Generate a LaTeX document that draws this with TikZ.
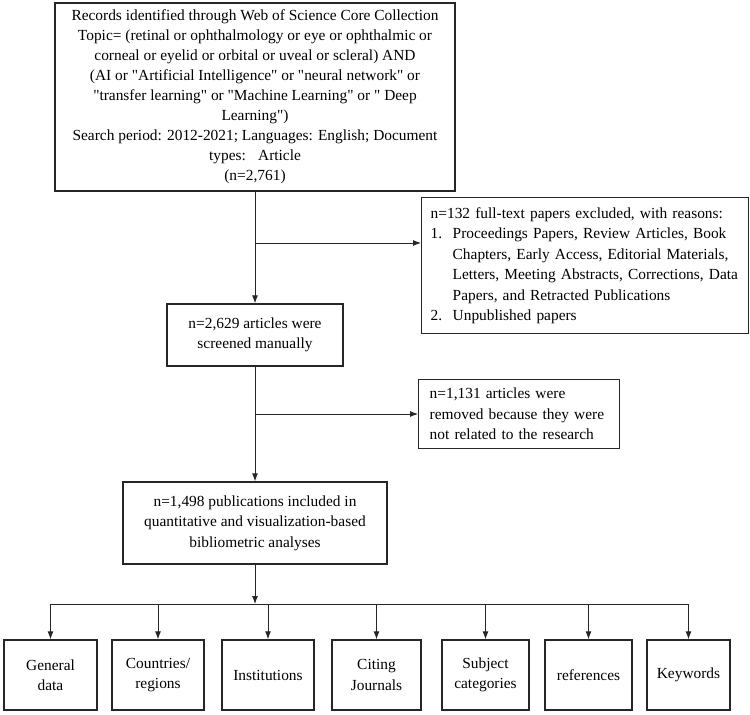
\documentclass[tikz,border=0pt]{standalone}
\usepackage{fontspec}
\setmainfont{Liberation Serif}[Ligatures=TeXOff]
\usetikzlibrary{arrows.meta}
\definecolor{flowgray}{RGB}{38,38,38}
\tikzset{
    flowbox/.style={
        draw=flowgray,
        line width=1.4pt,
        align=center,
        inner sep=0pt,
        font=\fontsize{15.4}{20.5}\selectfont
    },
    notebox/.style={
        draw=flowgray,
        line width=1.4pt,
        align=left,
        inner ysep=0pt,
        anchor=north west,
        font=\fontsize{15.4}{20.5}\selectfont
    },
    catbox/.style={
        flowbox,
        minimum height=70pt
    },
    flowarrow/.style={
        draw=flowgray,
        line width=0.9pt,
        -{Latex[length=8pt,width=6pt]}
    },
    flowbar/.style={
        draw=flowgray,
        line width=0.9pt
    }
}

\begin{document}
\begin{tikzpicture}[x=1pt,y=-1pt]
    \useasboundingbox (0,0) rectangle (750,715);

    \node[flowbox, minimum width=400pt, minimum height=188pt, font=\fontsize{15.4}{20}\selectfont] (search) at (255,97) {
        Records identified through Web of Science Core Collection\\
        Topic= (retinal or ophthalmology or eye or ophthalmic or\\
        corneal or eyelid or orbital or uveal or scleral) AND\\
        (AI or "Artificial Intelligence" or "neural network" or\\
        "transfer learning" or "Machine Learning" or " Deep\\
        Learning")\\
        Search period: 2012-2021; Languages: English; Document\\
        types:\hspace{0.8em}Article\\
        (n=2,761)
    };

    \node[notebox, text width=309pt, inner xsep=9pt, minimum height=136pt] (excluded) at (421,197) {
        n=132 full-text papers excluded, with reasons:\\
        \makebox[22pt][l]{1.}Proceedings Papers, Review Articles, Book\\
        \hspace*{22pt}Chapters, Early Access, Editorial Materials,\\
        \hspace*{22pt}Letters, Meeting Abstracts, Corrections, Data\\
        \hspace*{22pt}Papers, and Retracted Publications\\
        \makebox[22pt][l]{2.}Unpublished papers
    };

    \node[flowbox, minimum width=176pt, minimum height=62pt] (screened) at (255,335) {
        n=2,629 articles were\\
        screened manually
    };

    \node[notebox, text width=179pt, inner xsep=11pt, minimum height=69pt] (removed) at (418,379) {
        n=1,131 articles were\\
        removed because they were\\
        not related to the research
    };

    \node[flowbox, minimum width=264pt, minimum height=82pt] (included) at (255,523) {
        n=1,498 publications included in\\
        quantitative and visualization-based\\
        bibliometric analyses
    };

    \node[catbox, minimum width=93pt] (general) at (50.5,675) {General\\data};
    \node[catbox, minimum width=92pt] (countries) at (158,675) {Countries/\\regions};
    \node[catbox, minimum width=92pt] (institutions) at (268,675) {Institutions};
    \node[catbox, minimum width=89pt] (journals) at (376.5,675) {Citing\\Journals};
    \node[catbox, minimum width=87pt] (subjects) at (485.5,675) {Subject\\categories};
    \node[catbox, minimum width=87pt] (references) at (588.5,675) {references};
    \node[catbox, minimum width=83pt] (keywords) at (688.5,675) {Keywords};

    \coordinate (fork1) at (255,243);
    \coordinate (fork2) at (255,414);
    \coordinate (hub) at (255,604);

    \draw[flowarrow] (search.south) -- (screened.north);
    \draw[flowarrow] (fork1) -- (fork1 -| excluded.west);
    \draw[flowarrow] (screened.south) -- (included.north);
    \draw[flowarrow] (fork2) -- (fork2 -| removed.west);
    \draw[flowarrow] (included.south) -- (hub);

    \draw[flowbar] (hub -| general.north) -- (hub -| keywords.north);
    \draw[flowarrow] (hub -| general.north) -- (general.north);
    \draw[flowarrow] (hub -| countries.north) -- (countries.north);
    \draw[flowarrow] (hub -| institutions.north) -- (institutions.north);
    \draw[flowarrow] (hub -| journals.north) -- (journals.north);
    \draw[flowarrow] (hub -| subjects.north) -- (subjects.north);
    \draw[flowarrow] (hub -| references.north) -- (references.north);
    \draw[flowarrow] (hub -| keywords.north) -- (keywords.north);
\end{tikzpicture}
\end{document}
